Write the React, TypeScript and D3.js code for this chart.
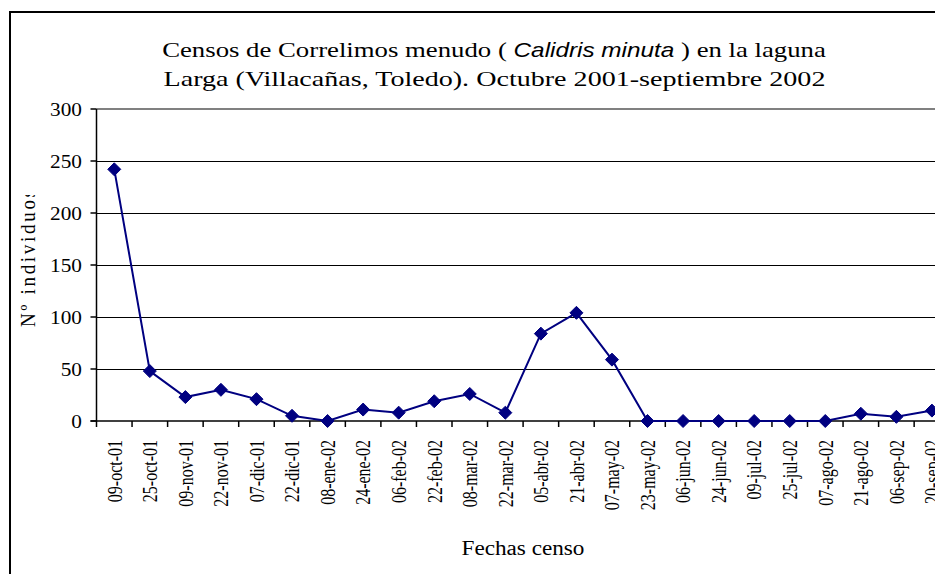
import React, { useEffect, useRef } from "react";
import * as d3 from "d3";

const categories = [
  "09-oct-01", "25-oct-01", "09-nov-01", "22-nov-01", "07-dic-01", "22-dic-01",
  "08-ene-02", "24-ene-02", "06-feb-02", "22-feb-02", "08-mar-02", "22-mar-02",
  "05-abr-02", "21-abr-02", "07-may-02", "23-may-02", "06-jun-02", "24-jun-02",
  "09-jul-02", "25-jul-02", "07-ago-02", "21-ago-02", "06-sep-02", "20-sep-02",
];
const counts = [242, 48, 23, 30, 21, 5, 0, 11, 8, 19, 26, 8, 84, 104, 59, 0, 0, 0, 0, 0, 0, 7, 4, 10];
const yTicks = [0, 50, 100, 150, 200, 250, 300];
const titleLine1 = [
  { text: "Censos de Correlimos menudo (", italic: false },
  { text: " Calidris minuta ", italic: true },
  { text: ") en la laguna", italic: false },
];
const titleLine2 = "Larga (Villacañas, Toledo). Octubre 2001-septiembre 2002";
const xTitle = "Fechas censo";
const yTitle = "Nº individuos";

const W = 935;
const H = 574;
const SERIF = '"Liberation Serif", "Times New Roman", "DejaVu Serif", serif';
const SANS = '"Liberation Sans", Arial, "DejaVu Sans", sans-serif';
const NAVY = "#000080";

export default function App() {
  const ref = useRef<SVGSVGElement>(null);

  useEffect(() => {
    const svg = d3.select(ref.current);
    svg.selectAll("*").remove();

    const band = 35.55;
    const x0 = 96.5;
    const x = d3.scaleBand<string>().domain(categories).range([x0, x0 + band * categories.length]);
    const y = d3.scaleLinear().domain([0, 300]).range([421, 109]);
    const xEnd = x0 + band * categories.length;

    svg.append("rect").attr("width", W).attr("height", H).attr("fill", "#fff");
    // outer chart frame
    svg.append("rect").attr("x", 10).attr("y", 12).attr("width", 1000).attr("height", 700)
      .attr("fill", "none").attr("stroke", "#000").attr("stroke-width", 2);

    const serifText = (g: any) =>
      g.append("text").style("font-family", SERIF).style("font-weight", "400").attr("fill", "#000");

    // fit helper for horizontally stretched text
    const fitH = (t: any, cx: number, by: number, target: number) => {
      const w = (t.node() as SVGTextElement).getComputedTextLength();
      const s = target / w;
      t.attr("transform", `translate(${cx},${by}) scale(${s},1)`);
    };

    // title
    const t1 = serifText(svg).attr("text-anchor", "middle").style("font-size", "22px");
    titleLine1.forEach((p) => {
      t1.append("tspan").text(p.text)
        .style("font-family", p.italic ? SANS : SERIF)
        .style("font-style", p.italic ? "italic" : "normal")
        .style("font-size", p.italic ? "20px" : "22px");
    });
    fitH(t1, 494, 57, 664);
    const t2 = serifText(svg).attr("text-anchor", "middle").style("font-size", "22px").text(titleLine2);
    fitH(t2, 494.5, 86, 662);

    // gridlines
    svg.append("g").selectAll("line").data(yTicks.filter((v) => v > 0 && v < 300)).join("line")
      .attr("x1", x0).attr("x2", xEnd).attr("y1", (d) => y(d) + 0.5).attr("y2", (d) => y(d) + 0.5)
      .attr("stroke", "#000").attr("stroke-width", 1);
    // plot top border (gray)
    svg.append("line").attr("x1", x0).attr("x2", xEnd).attr("y1", y(300)).attr("y2", y(300))
      .attr("stroke", "#808080").attr("stroke-width", 2);

    // axes
    svg.append("line").attr("x1", x0).attr("x2", x0).attr("y1", y(300)).attr("y2", y(0))
      .attr("stroke", "#000").attr("stroke-width", 1.5);
    svg.append("line").attr("x1", x0 - 6).attr("x2", xEnd).attr("y1", y(0)).attr("y2", y(0))
      .attr("stroke", "#000").attr("stroke-width", 1.5);

    // y ticks
    svg.append("g").selectAll("line").data(yTicks).join("line")
      .attr("x1", x0 - 6).attr("x2", x0).attr("y1", (d) => y(d)).attr("y2", (d) => y(d))
      .attr("stroke", "#000").attr("stroke-width", 1.5);
    const yl = svg.append("g");
    yTicks.forEach((v) => {
      serifText(yl).attr("text-anchor", "end").style("font-size", "19px")
        .attr("dy", "0.35em")
        .attr("transform", `translate(82,${y(v)}) scale(1.12,1)`)
        .text(String(v));
    });

    // x ticks at band edges
    const edges = d3.range(categories.length + 1).map((i) => x0 + i * band);
    svg.append("g").selectAll("line").data(edges).join("line")
      .attr("x1", (d) => d).attr("x2", (d) => d).attr("y1", y(0)).attr("y2", y(0) + 6)
      .attr("stroke", "#000").attr("stroke-width", 1.5);
    const xl = svg.append("g");
    categories.forEach((c) => {
      serifText(xl).attr("text-anchor", "end").style("font-size", "16px")
        .attr("dy", "0.35em")
        .attr("transform", `translate(${(x(c) as number) + band / 2},440) scale(1.3,1) rotate(-90)`)
        .text(c);
    });

    // x title
    const xt = serifText(svg).attr("text-anchor", "middle").style("font-size", "20px").text(xTitle);
    fitH(xt, 523, 555, 123);

    // y title (clipped like the reference)
    const defs = svg.append("defs");
    defs.append("clipPath").attr("id", "ytclip").append("rect")
      .attr("x", 0).attr("y", 195).attr("width", 90).attr("height", 300);
    const yg = svg.append("g").attr("clip-path", "url(#ytclip)");
    serifText(yg).attr("text-anchor", "start").style("font-size", "19px")
      .attr("textLength", 137).attr("lengthAdjust", "spacing")
      .attr("transform", `translate(35,327) scale(1.15,1) rotate(-90)`)
      .text(yTitle);

    // series line
    const cx = (i: number) => (x(categories[i]) as number) + band / 2;
    const line = d3.line<number>().x((_, i) => cx(i)).y((d) => y(d));
    svg.append("path").datum(counts).attr("d", line).attr("fill", "none")
      .attr("stroke", NAVY).attr("stroke-width", 2);

    // diamond markers
    const r = 6.5;
    svg.append("g").selectAll("path").data(counts).join("path")
      .attr("d", (d, i) => {
        const px = cx(i), py = y(d);
        return `M${px},${py - r}L${px + r},${py}L${px},${py + r}L${px - r},${py}Z`;
      })
      .attr("fill", NAVY).attr("stroke", NAVY).attr("stroke-width", 1);
  }, []);

  return (
    <svg ref={ref} width={W} height={H}
      style={{ position: "absolute", left: 0, top: 0, background: "#fff", display: "block" }} />
  );
}
